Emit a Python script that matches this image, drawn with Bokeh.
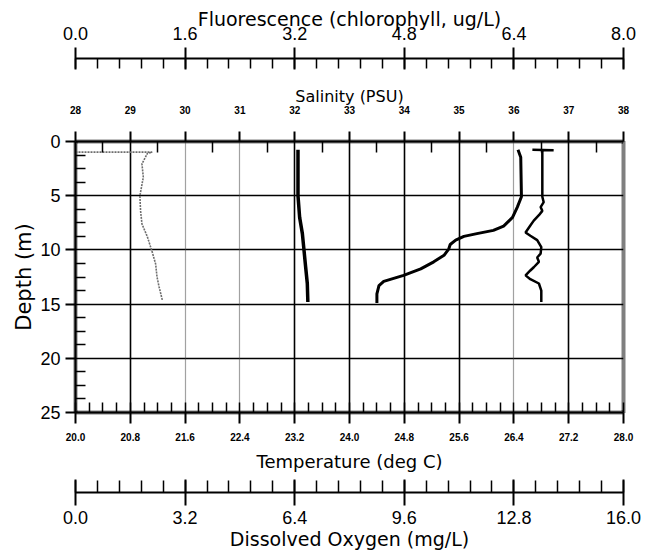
from bokeh.plotting import figure
from bokeh.layouts import column
from bokeh.models import Range1d, LinearAxis, FixedTicker, NumeralTickFormatter, Grid
from bokeh.embed import file_html
from bokeh.resources import INLINE

# ---- data ----
depth_temp = [0.77, 1.45, 5.1, 6.05, 7.0, 7.8, 8.2, 8.5, 8.75, 9.1, 9.5, 9.9, 10.5,
              11.1, 11.75, 12.35, 12.9, 13.3, 14.05, 14.9]
temperature = [26.46, 26.50, 26.51, 26.45, 26.38, 26.25, 26.10, 25.86, 25.67, 25.55,
               25.47, 25.45, 25.38, 25.23, 25.04, 24.79, 24.50, 24.43, 24.40, 24.40]

depth_sal = [0.77, 5.0, 7.0, 8.5, 10.05, 11.6, 13.1, 14.8]
salinity = [32.06, 32.06, 32.09, 32.14, 32.17, 32.20, 32.23, 32.24]

depth_fl = [0.98, 0.98, 1.1, 2.06, 3.3, 5.0, 6.4, 7.6, 8.8, 10.2, 11.3, 12.5, 13.4, 14.7]
fluorescence = [0.0, 1.12, 1.05, 0.97, 0.99, 0.94, 0.95, 0.97, 1.05, 1.12, 1.17, 1.19,
                1.22, 1.27]

depth_do = [0.75, 0.8, 0.8, 0.98, 5.1, 5.6, 6.05, 6.4, 6.8, 7.3, 7.75, 8.4, 8.7, 9.1,
            9.75, 10.35, 10.7, 11.1, 11.6, 11.9, 12.35, 12.7, 13.1, 13.75, 14.8]
dissolved_oxygen = [13.34, 13.96, 13.64, 13.63, 13.63, 13.67, 13.58, 13.63, 13.53, 13.38,
                    13.28, 13.14, 13.28, 13.48, 13.60, 13.58, 13.48, 13.53, 13.38, 13.28,
                    13.14, 13.28, 13.53, 13.60, 13.60]

depth_ticks = [0, 5, 10, 15, 20, 25]
depth_minor = [1.25, 2.5, 3.75, 6.25, 7.5, 8.75, 11.25, 12.5, 13.75, 16.25, 17.5, 18.75,
               21.25, 22.5, 23.75]
temp_ticks = [20.0, 20.8, 21.6, 22.4, 23.2, 24.0, 24.8, 25.6, 26.4, 27.2, 28.0]
temp_minor = [round(20.0 + 0.2 * i, 2) for i in range(41)]
grid_solid = [20.8, 23.2, 24.0, 24.8, 25.6, 27.2]
grid_faint = [21.6, 22.4, 26.4]
sal_ticks = [28, 29, 30, 31, 32, 33, 34, 35, 36, 37, 38]
sal_minor = [28.5 + i for i in range(10)]
fl_ticks = [0.0, 1.6, 3.2, 4.8, 6.4, 8.0]
fl_minor = [round(0.32 * i, 2) for i in range(26)]
do_ticks = [0.0, 3.2, 6.4, 9.6, 12.8, 16.0]
do_minor = [round(0.64 * i, 2) for i in range(26)]

FONT = "Liberation Sans"
TFONT = "DejaVu Sans"

temp_range = Range1d(20, 28)
sal_range = Range1d(28, 38)
fl_range = Range1d(0, 8)
do_range = Range1d(0, 16)
depth_range = Range1d(25, 0)


def style(ax, lab_size, title_size, bold=False):
    ax.axis_line_color = "black"
    ax.axis_line_width = 2
    ax.major_tick_line_color = "black"
    ax.major_tick_line_width = 2
    ax.minor_tick_line_color = "black"
    ax.minor_tick_line_width = 1.5
    ax.major_label_text_font = FONT
    ax.major_label_text_font_size = lab_size
    ax.major_label_text_font_style = "bold" if bold else "normal"
    ax.major_label_text_color = "black"
    ax.axis_label_text_font = TFONT
    ax.axis_label_text_font_size = title_size
    ax.axis_label_text_font_style = "normal"
    ax.axis_label_text_color = "black"


def strip(height, top, bottom, loc):
    f = figure(width=658, height=height, output_backend="svg", toolbar_location=None,
               x_range=fl_range if loc == "above" else do_range,
               y_range=Range1d(0, 1), x_axis_location=loc, y_axis_location=None,
               min_border_left=75, min_border_right=35, min_border_top=top,
               min_border_bottom=bottom, outline_line_color=None,
               background_fill_color="white", border_fill_color="white")
    f.grid.visible = False
    return f


# ---- top strip: fluorescence axis ----
top = strip(70, 58, 0, "above")
fl_ax = top.xaxis[0]
fl_ax.ticker = FixedTicker(ticks=fl_ticks, minor_ticks=fl_minor)
fl_ax.formatter = NumeralTickFormatter(format="0.0")
fl_ax.axis_label = "Fluorescence (chlorophyll, ug/L)"
style(fl_ax, "18px", "19px")
fl_ax.major_tick_out = 11
fl_ax.major_tick_in = 11
fl_ax.minor_tick_in = 10
fl_ax.minor_tick_out = 0
fl_ax.major_label_standoff = 8
fl_ax.axis_label_standoff = -6

# ---- main plot ----
p = figure(width=658, height=408, output_backend="svg", toolbar_location=None,
           x_range=temp_range, y_range=depth_range, x_axis_location=None,
           min_border_left=75, min_border_right=35, min_border_top=71,
           min_border_bottom=66, background_fill_color="white",
           border_fill_color="white", outline_line_color="black",
           outline_line_width=4, outline_line_dash="1 1")
p.extra_x_ranges = {"sal": sal_range, "fl": fl_range, "do": do_range}

p.xgrid.ticker = FixedTicker(ticks=grid_solid)
p.ygrid.ticker = FixedTicker(ticks=depth_ticks)
for g in (p.xgrid[0], p.ygrid[0]):
    g.grid_line_color = "black"
    g.grid_line_width = 1.6
p.add_layout(Grid(dimension=0, ticker=FixedTicker(ticks=grid_faint),
                  grid_line_color="#444444", grid_line_width=1.2,
                  grid_line_dash="1 1"))

ya = p.yaxis[0]
ya.ticker = FixedTicker(ticks=depth_ticks, minor_ticks=depth_minor)
ya.axis_label = "Depth (m)"
style(ya, "18px", "21px")
ya.major_tick_out = 10
ya.major_tick_in = 0
ya.minor_tick_in = 10
ya.minor_tick_out = 0
ya.major_label_standoff = 5
ya.axis_label_standoff = 1

sal_ax = LinearAxis(x_range_name="sal", axis_label="Salinity (PSU)",
                    ticker=FixedTicker(ticks=sal_ticks, minor_ticks=sal_minor))
style(sal_ax, "10px", "16px", bold=True)
sal_ax.major_tick_out = 10
sal_ax.major_tick_in = 0
sal_ax.minor_tick_in = 11
sal_ax.minor_tick_out = 0
sal_ax.major_label_standoff = 18
sal_ax.axis_label_standoff = -3
p.add_layout(sal_ax, "above")

t_ax = LinearAxis(axis_label="Temperature (deg C)",
                  ticker=FixedTicker(ticks=temp_ticks, minor_ticks=temp_minor),
                  formatter=NumeralTickFormatter(format="0.0"))
style(t_ax, "10px", "18px", bold=True)
t_ax.major_tick_out = 11
t_ax.major_tick_in = 0
t_ax.minor_tick_in = 10
t_ax.minor_tick_out = 0
t_ax.major_label_standoff = 9
t_ax.axis_label_standoff = 7
p.add_layout(t_ax, "below")

p.line(fluorescence, depth_fl, x_range_name="fl", line_color="#6e6e6e",
       line_width=1.6, line_dash="2 1")
p.line(salinity, depth_sal, x_range_name="sal", line_color="black", line_width=3.5)
p.line(temperature, depth_temp, line_color="black", line_width=3)
p.line(dissolved_oxygen, depth_do, x_range_name="do", line_color="black", line_width=2.5)

# ---- bottom strip: dissolved oxygen axis ----
bot = strip(76, 0, 62, "below")
do_ax = bot.xaxis[0]
do_ax.ticker = FixedTicker(ticks=do_ticks, minor_ticks=do_minor)
do_ax.formatter = NumeralTickFormatter(format="0.0")
do_ax.axis_label = "Dissolved Oxygen (mg/L)"
style(do_ax, "18px", "19px")
do_ax.major_tick_out = 13
do_ax.major_tick_in = 13
do_ax.minor_tick_in = 12
do_ax.minor_tick_out = 0
do_ax.major_label_standoff = 5
do_ax.axis_label_standoff = 1

layout = column(top, p, bot, spacing=0)
open("out.html", "w").write(file_html(layout, INLINE))
